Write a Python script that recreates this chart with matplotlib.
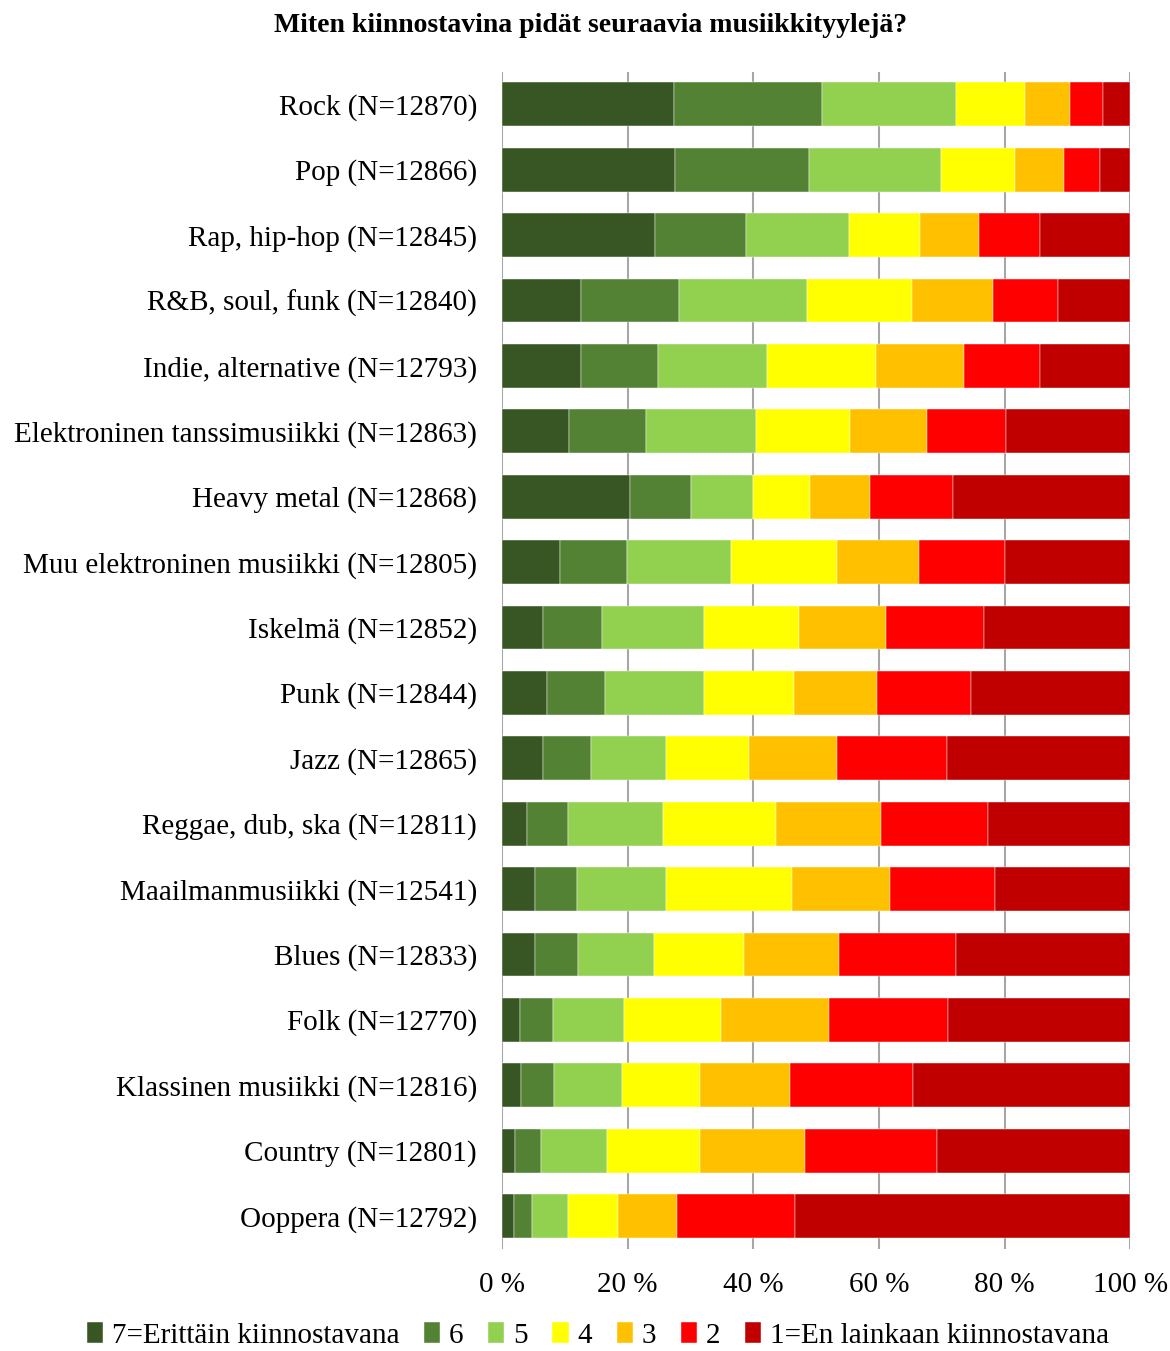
#! /usr/bin/env python3

import matplotlib
matplotlib.use('Agg')
import matplotlib.pyplot as plt
import numpy as np

categories=['Rock (N=12870)', 'Pop (N=12866)', 'Rap, hip-hop (N=12845)',
            'R&B, soul, funk (N=12840)', 'Indie, alternative (N=12793)',
            'Elektroninen tanssimusiikki (N=12863)', 'Heavy metal (N=12868)',
            'Muu elektroninen musiikki (N=12805)', 'Iskelmä (N=12852)',
            'Punk (N=12844)', 'Jazz (N=12865)', 'Reggae, dub, ska (N=12811)',
            'Maailmanmusiikki (N=12541)', 'Blues (N=12833)', 'Folk (N=12770)',
            'Klassinen musiikki (N=12816)', 'Country (N=12801)', 'Ooppera (N=12792)']

series_names=['7=Erittäin kiinnostavana', '6', '5', '4', '3', '2',
              '1=En lainkaan kiinnostavana']

# percentages per answer, one list per answer option (same order as categories)
s7=[27.4, 27.6, 24.4, 12.6, 12.6, 10.6, 20.4, 9.2, 6.6, 7.1, 6.6, 4.0, 5.3, 5.2, 2.9, 3.1, 2.1, 1.9]
s6=[23.6, 21.3, 14.5, 15.6, 12.2, 12.4, 9.7, 10.7, 9.3, 9.3, 7.6, 6.5, 6.6, 6.9, 5.2, 5.2, 4.1, 2.9]
s5=[21.2, 21.0, 16.3, 20.3, 17.4, 17.5, 9.9, 16.5, 16.2, 15.7, 11.9, 15.2, 14.2, 12.1, 11.4, 10.8, 10.5, 5.7]
s4=[11.1, 11.7, 11.4, 16.7, 17.3, 14.9, 9.1, 17.0, 15.2, 14.4, 13.2, 18.0, 20.1, 14.3, 15.3, 12.5, 14.9, 7.9]
s3=[7.1, 7.9, 9.4, 12.9, 14.0, 12.3, 9.5, 13.0, 13.9, 13.2, 14.1, 16.6, 15.6, 15.2, 17.2, 14.2, 16.7, 9.4]
s2=[5.3, 5.7, 9.6, 10.4, 12.1, 12.6, 13.2, 13.7, 15.6, 14.9, 17.5, 17.1, 16.7, 18.6, 19.0, 19.7, 21.0, 18.8]
s1=[4.3, 4.8, 14.4, 11.5, 14.4, 19.7, 28.2, 19.9, 23.2, 25.4, 29.1, 22.6, 21.5, 27.7, 29.0, 34.5, 30.7, 53.4]

colors=['#375623', '#548235', '#92D050', '#FFFF00', '#FFC000', '#FF0000', '#C00000']

plt.rcParams['font.family']=['Liberation Serif', 'DejaVu Serif']

fig=plt.figure(figsize=(11.7, 13.51), dpi=100)
ax=fig.add_axes([0.429, 0.0757, 0.537, 0.8713])

y=np.arange(len(categories))
left=np.zeros(len(categories))
for name, vals, col in zip(series_names, [s7, s6, s5, s4, s3, s2, s1], colors):
    vals=np.array(vals)
    ax.barh(y, vals, left=left, height=0.67, color=col, label=name,
            edgecolor='white', linewidth=0.3, zorder=3)
    left+=vals

ax.set_ylim(len(categories)-0.5, -0.5)
ax.set_xlim(0, 100)
ax.set_yticks(y)
ax.set_yticklabels(categories, fontsize=21)
ax.set_xticks(np.arange(0, 101, 20))
ax.set_xticklabels(['%d %%' % v for v in range(0, 101, 20)], fontsize=21)
ax.tick_params(axis='y', length=0, pad=18)
ax.tick_params(axis='x', length=0, pad=17)
ax.grid(axis='x', color='#a6a6a6', linewidth=1.5, zorder=0)
for s in ax.spines.values():
    s.set_visible(False)

fig.text(0.505, 0.981, 'Miten kiinnostavina pidät seuraavia musiikkityylejä?',
         ha='center', va='center', fontsize=20, fontweight='bold')

fig.legend(loc='lower center', bbox_to_anchor=(0.511, -0.009), ncol=7,
           frameon=False, fontsize=21, handlelength=0.55, handleheight=0.7,
           handletextpad=0.3, columnspacing=0.85, borderpad=0.0)

fig.savefig('out.png', dpi=100)
